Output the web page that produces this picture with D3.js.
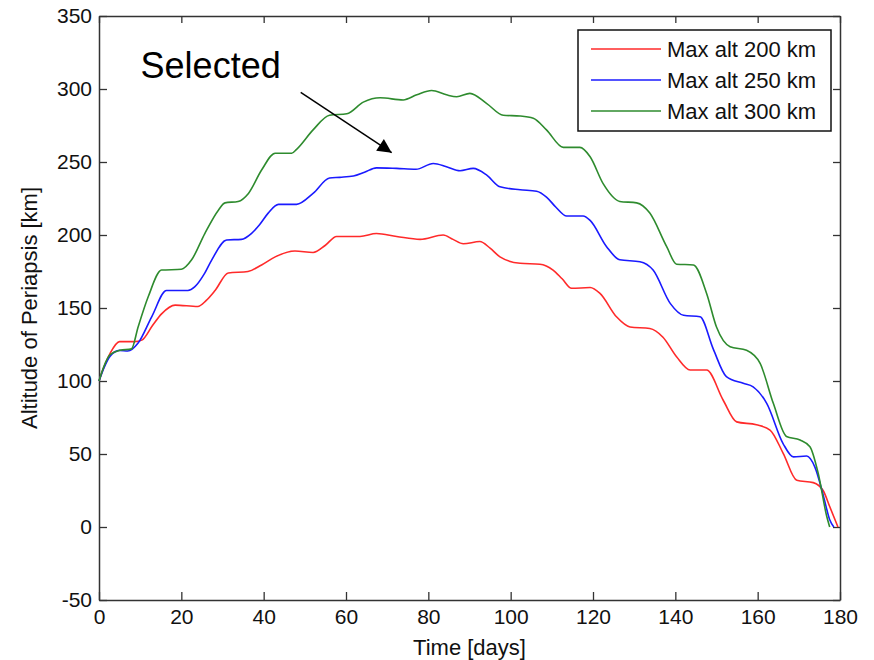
<!DOCTYPE html>
<html>
<head>
<meta charset="utf-8">
<script src="https://cdn.jsdelivr.net/npm/d3@7/dist/d3.min.js"></script>
<style>
  body { margin: 0; background: #fff; }
  text { font-family: "Liberation Sans", Arial, Helvetica, sans-serif; }
</style>
</head>
<body>
<div id="chart"></div>
<script>
var svgWidth = 874;
var svgHeight = 660;

var margin = { top: 16, right: 34, bottom: 60, left: 99 };
var chartWidth = svgWidth - margin.left - margin.right;
var chartHeight = svgHeight - margin.top - margin.bottom;

// data
var seriesNames = ['Max alt 200 km', 'Max alt 250 km', 'Max alt 300 km'];
var seriesColors = ['#ff2a2a', '#1a1aff', '#2e8b2e'];

var daysRed = [0, 1, 2.7, 5, 8.7, 10.4, 13, 15.2, 18.5, 24, 26, 28.2, 31.4, 36.2, 39.5, 42.8, 47.6, 52, 55, 57.7, 63.4, 67.4, 72.3, 78, 83.6, 86, 88.5, 92.5, 95, 97.4, 102.3, 107.1, 110.3, 112.5, 114.8, 119.3, 121.7, 125.7, 129, 133.8, 137, 140.3, 143.6, 147.6, 151.6, 154.9, 159.7, 163, 166.2, 169.5, 173.5, 175.9, 177.5, 179.5];
var altRed = [100, 108, 119, 127, 127, 128, 138, 146, 152, 151, 155, 162, 174, 175, 179.5, 185, 189, 188, 193, 199, 199, 201, 199, 197, 200, 197, 194, 195.5, 191, 185, 180.6, 180, 176, 170, 163.5, 164, 160, 144, 137, 136, 130, 116.6, 107.5, 107.5, 87, 72, 70, 66.4, 50.5, 32, 30.4, 25, 14, 0];

var daysBlue = [0, 1.2, 2.7, 5, 7, 9.5, 12.8, 16.4, 21.6, 23.3, 25.5, 27.4, 31, 34.6, 37, 39, 41.1, 43.6, 48, 52, 56, 58.5, 61.8, 64.5, 67.4, 72.3, 77, 81.2, 84.4, 87.7, 90.9, 94.2, 97.4, 102.3, 106.3, 108.7, 111, 113.6, 117.6, 119.3, 123.3, 126.5, 131.4, 134.6, 138.8, 142, 146, 149.2, 152.4, 156.5, 158.9, 162.2, 166.2, 168.7, 171.9, 173.9, 176, 177.5, 178.5];
var altBlue = [100, 109, 117, 121, 120.5, 126, 144, 162, 162, 164.6, 173, 183, 196.6, 197, 201, 207, 215, 221, 221, 228.5, 239, 239.5, 240.4, 243, 246, 245.6, 245, 249, 246.8, 244, 245.6, 241, 233, 231, 230, 226, 219, 213, 213, 210, 192, 183, 181.7, 176, 153, 145, 144, 122, 103, 98.4, 96, 84.7, 57, 48, 48.6, 41, 21, 5, 0];

var daysGreen = [0, 1.2, 2.7, 5.1, 7.9, 9.5, 12, 15.2, 20, 22.5, 25.7, 29, 30.6, 33.8, 36.3, 39.5, 42.8, 46.8, 48, 52, 56, 60.2, 64.2, 68.3, 73.9, 77.2, 80.8, 84.4, 86.9, 90.1, 94.2, 98.2, 102.3, 105.5, 108.7, 112.8, 116.8, 119.3, 122.5, 126.5, 130.6, 133.8, 137.9, 140.3, 144.4, 147.6, 150, 153.3, 157.3, 160.6, 163.8, 167, 170.3, 172.7, 174.7, 176.8, 177.5];
var altGreen = [100, 110, 118, 121, 122, 137, 158, 176, 176.5, 183, 201, 217, 222, 223, 228.5, 244.5, 256, 256, 258.7, 272, 282, 283, 291, 294, 292.5, 296, 299, 296, 294.7, 297, 290, 282, 281.5, 280, 272, 260, 260, 253.6, 235, 223, 222, 215, 192, 180, 179.5, 160, 137, 123.5, 121, 112, 84.7, 62, 59.6, 55, 36.8, 7, 0];

var xTicks = [0, 20, 40, 60, 80, 100, 120, 140, 160, 180];
var yTicks = [-50, 0, 50, 100, 150, 200, 250, 300, 350];

// annotation: text anchor and arrow from/to in data units
var noteText = 'Selected';
var notePos = [10.1, 307.5];
var arrowFrom = [49, 297.7];
var arrowTo = [71.1, 256.4];

var allSeries = [
  { name: seriesNames[0], color: seriesColors[0], days: daysRed, alt: altRed },
  { name: seriesNames[1], color: seriesColors[1], days: daysBlue, alt: altBlue },
  { name: seriesNames[2], color: seriesColors[2], days: daysGreen, alt: altGreen }
];

var svg = d3.select('#chart').append('svg')
    .attr('width', svgWidth)
    .attr('height', svgHeight);

var chartGroup = svg.append('g')
    .attr('transform', `translate(${margin.left}, ${margin.top})`);

var xLinearScale = d3.scaleLinear().domain([0, 180]).range([0, chartWidth]);
var yLinearScale = d3.scaleLinear().domain([-50, 350]).range([chartHeight, 0]);

// axes, matlab style: ticks inside, on all four sides
var plainNum = d => String(d);
var bottomAxis = d3.axisBottom(xLinearScale).tickValues(xTicks).tickFormat(plainNum)
    .tickSize(-8).tickPadding(9).tickSizeOuter(0);
var leftAxis = d3.axisLeft(yLinearScale).tickValues(yTicks).tickFormat(plainNum)
    .tickSize(-8).tickPadding(7).tickSizeOuter(0);
var topAxis = d3.axisTop(xLinearScale).tickValues(xTicks).tickSize(-7).tickFormat('').tickSizeOuter(0);
var rightAxis = d3.axisRight(yLinearScale).tickValues(yTicks).tickSize(-7).tickFormat('').tickSizeOuter(0);

chartGroup.append('g').attr('class', 'axis')
    .attr('transform', `translate(0, ${chartHeight})`).call(bottomAxis);
chartGroup.append('g').attr('class', 'axis').call(leftAxis);
chartGroup.append('g').attr('class', 'axis').call(topAxis);
chartGroup.append('g').attr('class', 'axis')
    .attr('transform', `translate(${chartWidth}, 0)`).call(rightAxis);

chartGroup.selectAll('.axis path').attr('stroke', '#333').attr('stroke-width', 1.5);
chartGroup.selectAll('.axis line').attr('stroke', '#333').attr('stroke-width', 1.3);
chartGroup.selectAll('.axis text').attr('font-size', '21px').attr('fill', '#111')
    .attr('font-family', '"Liberation Sans", Arial, sans-serif');

// lines
var line = d3.line()
    .x(d => xLinearScale(d[0]))
    .y(d => yLinearScale(d[1]))
    .curve(d3.curveMonotoneX);

chartGroup.selectAll('.series')
    .data(allSeries)
    .enter()
    .append('path')
    .attr('class', 'series')
    .attr('fill', 'none')
    .attr('stroke', d => d.color)
    .attr('stroke-width', 1.6)
    .attr('d', d => line(d.days.map((t, i) => [t, d.alt[i]])));

// axis labels
svg.append('text')
    .attr('x', margin.left + chartWidth / 2)
    .attr('y', 655)
    .attr('text-anchor', 'middle')
    .attr('font-size', '22px')
    .attr('fill', '#111')
    .text('Time [days]');

svg.append('text')
    .attr('transform', `translate(37, ${margin.top + yLinearScale(150)}) rotate(-90)`)
    .attr('text-anchor', 'middle')
    .attr('font-size', '22px')
    .attr('fill', '#111')
    .text('Altitude of Periapsis [km]');

// legend
var legend = svg.append('g').attr('transform', 'translate(578, 30)');
legend.append('rect')
    .attr('width', 253).attr('height', 101)
    .attr('fill', '#fff').attr('stroke', '#111').attr('stroke-width', 1.5);

var legendItems = legend.selectAll('.item')
    .data(allSeries)
    .enter()
    .append('g')
    .attr('transform', (d, i) => `translate(0, ${19 + i * 31})`);
legendItems.append('line')
    .attr('x1', 13).attr('x2', 83)
    .attr('stroke', d => d.color).attr('stroke-width', 1.6);
legendItems.append('text')
    .attr('x', 89).attr('dy', '0.36em')
    .attr('font-size', '22px').attr('fill', '#111')
    .text(d => d.name);

// annotation
chartGroup.append('defs').append('marker')
    .attr('id', 'head')
    .attr('viewBox', '0 0 10 10')
    .attr('refX', 10).attr('refY', 5)
    .attr('markerWidth', 18).attr('markerHeight', 14)
    .attr('markerUnits', 'userSpaceOnUse')
    .attr('orient', 'auto')
    .append('path')
    .attr('d', 'M0,0 L10,5 L0,10 Z')
    .attr('fill', '#000');

chartGroup.append('line')
    .attr('x1', xLinearScale(arrowFrom[0])).attr('y1', yLinearScale(arrowFrom[1]))
    .attr('x2', xLinearScale(arrowTo[0])).attr('y2', yLinearScale(arrowTo[1]))
    .attr('stroke', '#000').attr('stroke-width', 1.5)
    .attr('marker-end', 'url(#head)');

chartGroup.append('text')
    .attr('x', xLinearScale(notePos[0]))
    .attr('y', yLinearScale(notePos[1]))
    .attr('font-size', '36px')
    .attr('fill', '#000')
    .text(noteText);
</script>
</body>
</html>
